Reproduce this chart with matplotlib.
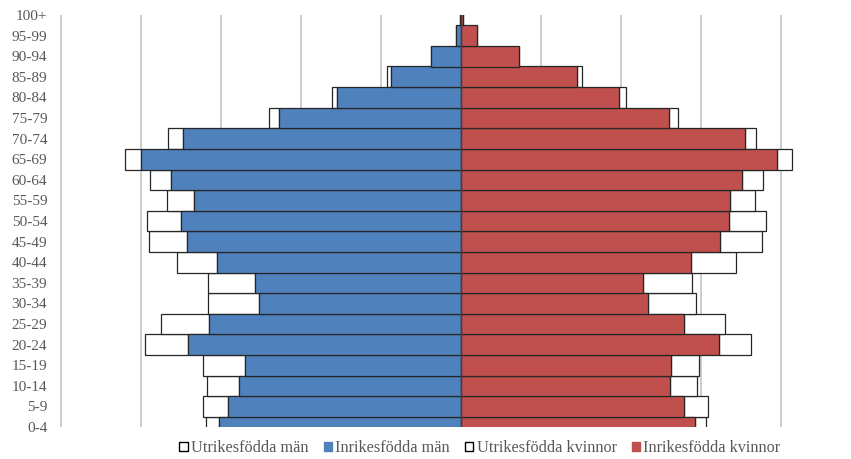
import matplotlib
matplotlib.use("Agg")
import matplotlib.pyplot as plt
from matplotlib.patches import Patch

ages = ["0-4", "5-9", "10-14", "15-19", "20-24", "25-29", "30-34", "35-39",
        "40-44", "45-49", "50-54", "55-59", "60-64", "65-69", "70-74",
        "75-79", "80-84", "85-89", "90-94", "95-99", "100+"]

inrikes_man = [3.03, 2.91, 2.77, 2.70, 3.415, 3.15, 2.53, 2.57, 3.05, 3.43,
               3.50, 3.34, 3.63, 4.00, 3.475, 2.275, 1.554, 0.88, 0.37, 0.06, 0.01]
utrikes_man = [0.155, 0.31, 0.40, 0.52, 0.535, 0.60, 0.63, 0.595, 0.50, 0.47,
               0.43, 0.33, 0.26, 0.20, 0.185, 0.125, 0.055, 0.045, 0.01, 0.005, 0.0]
inrikes_kvinnor = [2.93, 2.79, 2.61, 2.63, 3.22, 2.79, 2.34, 2.28, 2.88, 3.24,
                   3.35, 3.36, 3.51, 3.95, 3.55, 2.60, 1.98, 1.455, 0.72, 0.20, 0.03]
utrikes_kvinnor = [0.13, 0.30, 0.34, 0.34, 0.41, 0.51, 0.595, 0.605, 0.56, 0.52,
                   0.46, 0.32, 0.27, 0.19, 0.14, 0.11, 0.085, 0.055, 0.01, 0.005, 0.0]

BLUE = "#4F81BD"
RED = "#C0504D"
EDGE = "#262626"
GRID = "#BFBFBF"
TXT = "#595959"
FONT = ["Liberation Serif", "DejaVu Serif"]

fig = plt.figure(figsize=(8.51, 4.59), dpi=100)
ax = fig.add_axes([57 / 851, 32 / 459, 808 / 851, 412 / 459])

y = list(range(len(ages)))
neg_inr_m = [-v for v in inrikes_man]
neg_utr_m = [-v for v in utrikes_man]

ax.barh(y, neg_inr_m, height=1.0, color=BLUE, edgecolor=EDGE, linewidth=0.9, zorder=3)
ax.barh(y, neg_utr_m, left=neg_inr_m, height=1.0, color="white", edgecolor=EDGE,
        linewidth=0.9, zorder=2)
ax.barh(y, inrikes_kvinnor, height=1.0, color=RED, edgecolor=EDGE, linewidth=0.9, zorder=3)
ax.barh(y, utrikes_kvinnor, left=inrikes_kvinnor, height=1.0, color="white",
        edgecolor=EDGE, linewidth=0.9, zorder=2)

ax.axvline(0, color="#404040", linewidth=0.9, zorder=4)

ax.set_xlim(-5.05, 5.05)
ax.set_ylim(0, 20)
ax.set_xticks(range(-5, 6))
ax.xaxis.grid(True, color=GRID, linewidth=1.1, zorder=0)
ax.set_axisbelow(True)
ax.tick_params(axis="x", length=0, labelbottom=False)
ax.set_yticks(y)
ax.set_yticklabels(ages, fontfamily=FONT, fontsize=11, color=TXT)
ax.tick_params(axis="y", length=0, pad=7)
for s in ax.spines.values():
    s.set_visible(False)

handles = [
    Patch(facecolor="white", edgecolor="#000000", linewidth=1.0, label="Utrikesfödda män"),
    Patch(facecolor=BLUE, edgecolor=BLUE, label="Inrikesfödda män"),
    Patch(facecolor="white", edgecolor="#000000", linewidth=1.0, label="Utrikesfödda kvinnor"),
    Patch(facecolor=RED, edgecolor=RED, label="Inrikesfödda kvinnor"),
]
fig.legend(handles=handles, loc="center", bbox_to_anchor=(480 / 851, 11 / 459), ncol=4,
           frameon=False, handlelength=0.5, handleheight=0.5, handletextpad=0.2,
           columnspacing=0.95, prop={"family": FONT, "size": 11.7}, labelcolor=TXT)

fig.savefig("out.png", dpi=100)
